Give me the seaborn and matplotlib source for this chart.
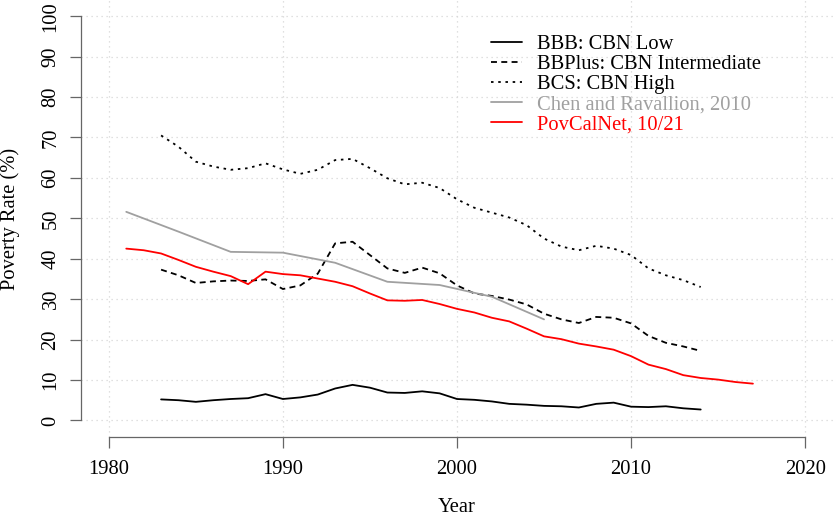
import numpy as np
import pandas as pd
import seaborn as sns
import matplotlib.pyplot as plt

# series
years_cbn = list(range(1983, 2015))
bbb_low = [5.2, 5.0, 4.6, 5.0, 5.3, 5.5, 6.5, 5.3, 5.7, 6.4, 7.9, 8.8, 8.1, 6.9, 6.8, 7.2,
           6.7, 5.3, 5.1, 4.7, 4.1, 3.9, 3.6, 3.5, 3.2, 4.1, 4.4, 3.4, 3.3, 3.5, 3.0, 2.7]
bbplus_mid = [37.3, 35.9, 34.0, 34.4, 34.6, 34.5, 34.9, 32.5, 33.4, 36.3, 43.8, 44.2, 40.9, 37.6,
              36.5, 37.8, 36.4, 33.4, 31.4, 30.8, 29.9, 28.7, 26.4, 25.0, 24.1, 25.6, 25.4, 24.0,
              20.9, 19.2, 18.3, 17.2]
bcs_high = [70.5, 67.7, 64.0, 62.8, 62.0, 62.4, 63.6, 62.1, 61.0, 62.0, 64.4, 64.7, 62.4, 59.9,
            58.4, 58.8, 57.5, 54.7, 52.6, 51.4, 50.2, 48.3, 45.0, 43.0, 42.1, 43.2, 42.5, 40.9,
            37.6, 35.9, 34.7, 33.0]
years_chen = [1981, 1984, 1987, 1990, 1993, 1996, 1999, 2002, 2005]
chen_rav = [51.6, 46.7, 41.7, 41.5, 39.0, 34.3, 33.5, 30.6, 25.0]
years_pcn = list(range(1981, 2018))
povcalnet = [42.5, 42.1, 41.3, 39.7, 38.0, 36.8, 35.7, 33.7, 36.8, 36.2,
             35.9, 35.1, 34.3, 33.2, 31.4, 29.7, 29.6, 29.8, 28.8, 27.6,
             26.7, 25.4, 24.5, 22.7, 20.8, 20.1, 19.0, 18.3, 17.5, 15.9,
             13.8, 12.7, 11.2, 10.5, 10.1, 9.5, 9.1]

labels = ['BBB: CBN Low', 'BBPlus: CBN Intermediate', 'BCS: CBN High',
          'Chen and Ravallion, 2010', 'PovCalNet, 10/21']

sns.set_style('white')
plt.rcParams['font.family'] = ['Liberation Serif', 'DejaVu Serif']
plt.rcParams['text.color'] = 'black'
plt.rcParams['axes.labelcolor'] = 'black'
fs = 14.8

fig = plt.figure(figsize=(8.33, 5.17), dpi=100)
ax = fig.add_axes([81 / 833, 1 - 436.6 / 517, (833 - 81) / 833, 436.6 / 517])

lw = 1.3
series = [
    (years_cbn, bbb_low, 'black', '-'),
    (years_cbn, bbplus_mid, 'black', (0, (3.3, 2.4))),
    (years_cbn, bcs_high, 'black', (0, (1.4, 2.6))),
    (years_chen, chen_rav, '#a0a0a0', '-'),
    (years_pcn, povcalnet, 'red', '-'),
]
for (x, y, col, ls), lab in zip(series, labels):
    sns.lineplot(x=x, y=y, ax=ax, color=col, linestyle=ls, lw=lw, label=lab)

ax.set_xlim(1978.4, 2021.6)
ax.set_ylim(-4, 104)
ax.set_xticks(range(1980, 2021, 10))
ax.set_yticks(range(0, 101, 10))
ax.grid(True, color='#d6d6d6', linestyle=(0, (1, 3)), lw=0.9)
ax.set_axisbelow(True)

for s in ['top', 'right']:
    ax.spines[s].set_visible(False)
ax.spines['left'].set_bounds(0, 100)
ax.spines['bottom'].set_bounds(1980, 2020)
for s in ['left', 'bottom']:
    ax.spines[s].set_color('#666666')
    ax.spines[s].set_linewidth(0.9)

ax.tick_params(axis='both', direction='out', length=7.8, width=0.9, color='#666666',
               labelsize=fs, labelcolor='black', bottom=True, left=True)
ax.tick_params(axis='x', pad=9)
ax.tick_params(axis='y', pad=7)
for t in ax.get_yticklabels():
    t.set_rotation(90)
    t.set_va('center')

ax.set_xlabel('')
ax.set_ylabel('')
fig.text(457 / 833, 1 - 508 / 517, 'Year', ha='center', va='center', fontsize=fs)
fig.text(10 / 833, 1 - 218.5 / 517, 'Poverty Rate (%)', ha='center', va='center',
         rotation=90, fontsize=fs)

leg = ax.legend(loc='upper left', bbox_to_anchor=(491 / 833, 1 - 35 / 517),
                bbox_transform=fig.transFigure, frameon=False, fontsize=fs,
                handlelength=1.5, handletextpad=0.72, labelspacing=0.03,
                borderpad=0, borderaxespad=0)
for txt, (_, _, col, _) in zip(leg.get_texts(), series):
    txt.set_color(col)

fig.savefig('out.png', dpi=100)
